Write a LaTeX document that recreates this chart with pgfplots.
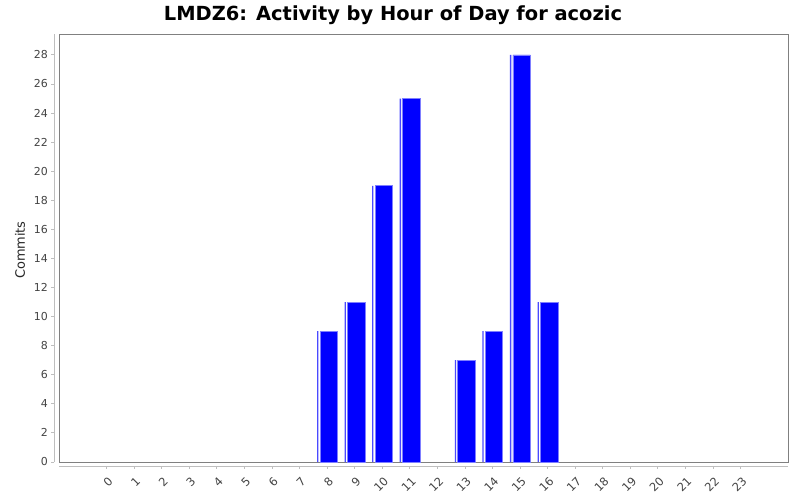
\documentclass[border=0pt]{standalone}
\usepackage{fontspec}
\setmainfont{DejaVu Sans}
\usepackage{pgfplots}
\usepackage{pgfplotstable}
\pgfplotsset{compat=1.18}
\definecolor{tickgray}{HTML}{444444}
\definecolor{boxgray}{HTML}{808080}
\definecolor{axgray}{HTML}{BEBEBE}
\definecolor{barblue}{HTML}{0000FF}
\definecolor{baredge}{HTML}{7F7FFF}
\definecolor{stripe}{HTML}{4A4AFF}
\pgfplotstableread{
hour commits
8 9
9 11
10 19
11 25
13 7
14 9
15 28
16 11
}\datatable
\begin{document}
\begin{tikzpicture}
\useasboundingbox (0,0) rectangle (800bp,500bp);
\fill[white] (0,0) rectangle (800bp,500bp);
\node[font=\fontsize{19.5}{22}\selectfont\bfseries, anchor=base, inner sep=0pt] at (393bp,479.5bp) {LMDZ6: Activity by Hour of Day for acozic};
\begin{axis}[
  at={(59bp,38bp)}, anchor=south west,
  width=729bp, height=428bp, scale only axis,
  xmin=-1.73, xmax=24.72, ymin=0, ymax=29.44,
  axis line style={boxgray, line width=0.9bp},
  ybar,
  xtick={0,...,23}, ytick={0,2,...,28},
  major tick length=0pt,
  tick style={draw=none},
  /pgf/number format/assume math mode=true,
  yticklabel style={font=\fontsize{11}{13}\selectfont, text=tickgray, anchor=east, inner sep=0pt, xshift=-11bp},
  xticklabel style={font=\fontsize{11.5}{13}\selectfont, text=tickgray, inner sep=0pt, anchor=east, xshift=4bp, yshift=-17bp, rotate=45},
  ylabel={Commits},
  every axis y label/.style={at={(axis description cs:-0.0535,0.495)}, rotate=90, anchor=center, font=\fontsize{13}{15}\selectfont, text=black!85},
  clip=false,
]
\addplot[ybar, bar width=17.5bp, bar shift=1.6bp, fill=barblue, draw=baredge, line width=0.8bp] table[x=hour, y=commits] {\datatable};
\addplot[ybar, bar width=1.3bp, bar shift=-9.5bp, fill=stripe, draw=none] table[x=hour, y=commits] {\datatable};
\draw[axgray, line width=0.9bp] ([yshift=-4bp]rel axis cs:0,0) -- ([yshift=-4bp]rel axis cs:1,0);
\draw[axgray, line width=0.9bp] ([xshift=-5bp]rel axis cs:0,0) -- ([xshift=-5bp]rel axis cs:0,1);
\pgfplotsinvokeforeach{0,...,23}{\draw[axgray, line width=0.9bp] ([yshift=-4bp]axis cs:#1,0) -- ([yshift=-7bp]axis cs:#1,0);}
\pgfplotsinvokeforeach{0,2,...,28}{\draw[axgray, line width=0.9bp] ([xshift=-5bp]axis cs:-1.73,#1) -- ([xshift=-8bp]axis cs:-1.73,#1);}
\end{axis}
\end{tikzpicture}
\end{document}
